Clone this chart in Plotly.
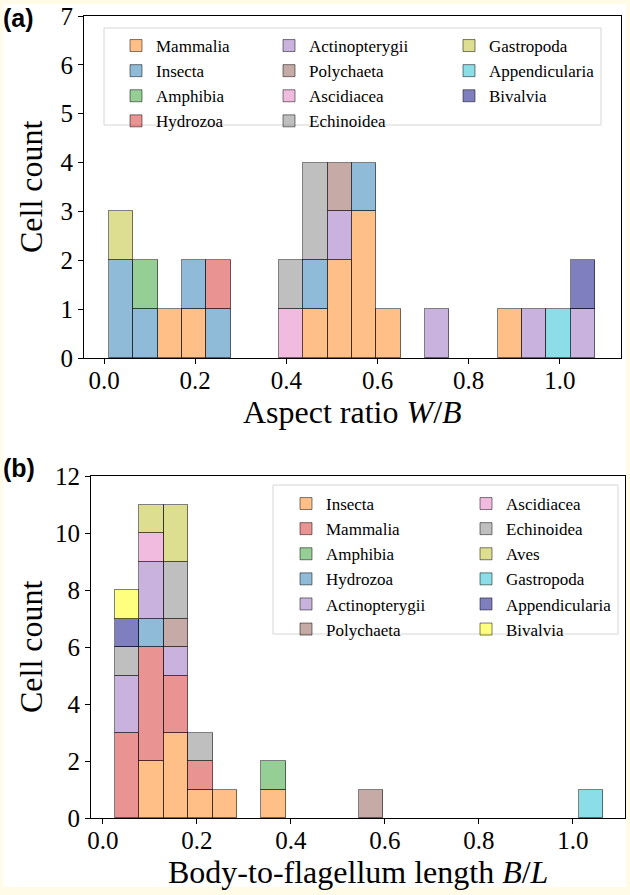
import numpy as np
import plotly.graph_objects as go

W, H = 630, 895

# ---- panel (a): aspect ratio W/B, counts per bin ----
a_edges = np.linspace(0.011, 1.077, 21)
a_names = ["Mammalia", "Insecta", "Amphibia", "Hydrozoa", "Actinopterygii", "Polychaeta",
           "Ascidiacea", "Echinoidea", "Gastropoda", "Appendicularia", "Bivalvia"]
a_mammalia = [0, 0, 1, 1, 0, 0, 0, 0, 1, 2, 3, 1, 0, 0, 0, 0, 1, 0, 0, 0]
a_insecta = [2, 1, 0, 1, 1, 0, 0, 0, 1, 0, 1, 0, 0, 0, 0, 0, 0, 0, 0, 0]
a_amphibia = [0, 1, 0, 0, 0, 0, 0, 0, 0, 0, 0, 0, 0, 0, 0, 0, 0, 0, 0, 0]
a_hydrozoa = [0, 0, 0, 0, 1, 0, 0, 0, 0, 0, 0, 0, 0, 0, 0, 0, 0, 0, 0, 0]
a_actinopterygii = [0, 0, 0, 0, 0, 0, 0, 0, 0, 1, 0, 0, 0, 1, 0, 0, 0, 1, 0, 1]
a_polychaeta = [0, 0, 0, 0, 0, 0, 0, 0, 0, 1, 0, 0, 0, 0, 0, 0, 0, 0, 0, 0]
a_ascidiacea = [0, 0, 0, 0, 0, 0, 0, 1, 0, 0, 0, 0, 0, 0, 0, 0, 0, 0, 0, 0]
a_echinoidea = [0, 0, 0, 0, 0, 0, 0, 1, 2, 0, 0, 0, 0, 0, 0, 0, 0, 0, 0, 0]
a_gastropoda = [1, 0, 0, 0, 0, 0, 0, 0, 0, 0, 0, 0, 0, 0, 0, 0, 0, 0, 0, 0]
a_appendicularia = [0, 0, 0, 0, 0, 0, 0, 0, 0, 0, 0, 0, 0, 0, 0, 0, 0, 0, 1, 0]
a_bivalvia = [0, 0, 0, 0, 0, 0, 0, 0, 0, 0, 0, 0, 0, 0, 0, 0, 0, 0, 0, 1]
a_counts = [a_mammalia, a_insecta, a_amphibia, a_hydrozoa, a_actinopterygii, a_polychaeta,
            a_ascidiacea, a_echinoidea, a_gastropoda, a_appendicularia, a_bivalvia]

# ---- panel (b): body-to-flagellum length B/L, counts per bin ----
b_edges = np.linspace(0.0255, 1.064, 21)
b_names = ["Insecta", "Mammalia", "Amphibia", "Hydrozoa", "Actinopterygii", "Polychaeta",
           "Ascidiacea", "Echinoidea", "Aves", "Gastropoda", "Appendicularia", "Bivalvia"]
b_insecta = [0, 2, 3, 1, 1, 0, 1, 0, 0, 0, 0, 0, 0, 0, 0, 0, 0, 0, 0, 0]
b_mammalia = [3, 4, 2, 1, 0, 0, 0, 0, 0, 0, 0, 0, 0, 0, 0, 0, 0, 0, 0, 0]
b_amphibia = [0, 0, 0, 0, 0, 0, 1, 0, 0, 0, 0, 0, 0, 0, 0, 0, 0, 0, 0, 0]
b_hydrozoa = [0, 1, 0, 0, 0, 0, 0, 0, 0, 0, 0, 0, 0, 0, 0, 0, 0, 0, 0, 0]
b_actinopterygii = [2, 2, 1, 0, 0, 0, 0, 0, 0, 0, 0, 0, 0, 0, 0, 0, 0, 0, 0, 0]
b_polychaeta = [0, 0, 1, 0, 0, 0, 0, 0, 0, 0, 1, 0, 0, 0, 0, 0, 0, 0, 0, 0]
b_ascidiacea = [0, 1, 0, 0, 0, 0, 0, 0, 0, 0, 0, 0, 0, 0, 0, 0, 0, 0, 0, 0]
b_echinoidea = [1, 0, 2, 1, 0, 0, 0, 0, 0, 0, 0, 0, 0, 0, 0, 0, 0, 0, 0, 0]
b_aves = [0, 1, 2, 0, 0, 0, 0, 0, 0, 0, 0, 0, 0, 0, 0, 0, 0, 0, 0, 0]
b_gastropoda = [0, 0, 0, 0, 0, 0, 0, 0, 0, 0, 0, 0, 0, 0, 0, 0, 0, 0, 0, 1]
b_appendicularia = [1, 0, 0, 0, 0, 0, 0, 0, 0, 0, 0, 0, 0, 0, 0, 0, 0, 0, 0, 0]
b_bivalvia = [1, 0, 0, 0, 0, 0, 0, 0, 0, 0, 0, 0, 0, 0, 0, 0, 0, 0, 0, 0]
b_counts = [b_insecta, b_mammalia, b_amphibia, b_hydrozoa, b_actinopterygii, b_polychaeta,
            b_ascidiacea, b_echinoidea, b_aves, b_gastropoda, b_appendicularia, b_bivalvia]

# matplotlib-ish colours drawn with alpha 0.5
palette = ["31,119,180", "255,127,14", "44,160,44", "214,39,40", "148,103,189", "140,86,75",
           "227,119,194", "127,127,127", "188,189,34", "23,190,207", "0,0,128", "255,255,0"]
a_colors = [palette[i] for i in [1, 0, 2, 3, 4, 5, 6, 7, 8, 9, 10]]
b_colors = [palette[i] for i in [1, 3, 2, 0, 4, 5, 6, 7, 8, 9, 10, 11]]

SERIF = "Liberation Serif"


def px_x(v):
    return v / W


def px_y(v):
    return 1 - v / H


fig = go.Figure()


def add_panel(edges, names, counts, colors, xa, ya, legends, per_col):
    centers = (edges[:-1] + edges[1:]) / 2
    width = edges[1] - edges[0]
    for i, (name, cnt, col) in enumerate(zip(names, counts, colors)):
        fig.add_trace(go.Bar(
            x=centers, y=[c if c else None for c in cnt], width=width, name=name,
            marker=dict(color="rgba(%s,0.5)" % col,
                        line=dict(color="rgba(0,0,0,0.5)", width=1)),
            xaxis=xa, yaxis=ya, legend=legends[i // per_col],
        ))


add_panel(a_edges, a_names, a_counts, a_colors, "x", "y", ["legend", "legend2", "legend3"], 4)
add_panel(b_edges, b_names, b_counts, b_colors, "x2", "y2", ["legend4", "legend5"], 6)

tick_font = dict(family=SERIF, size=25, color="black")
title_font = dict(family=SERIF, size=32, color="black")
axis_common = dict(showline=True, linecolor="black", linewidth=1.2, mirror=True,
                   ticks="outside", ticklen=5, tickcolor="black", showgrid=False,
                   zeroline=False, tickfont=tick_font, automargin=False)
ticks_x = dict(tickvals=[0, 0.2, 0.4, 0.6, 0.8, 1.0], ticktext=["0.0", "0.2", "0.4", "0.6", "0.8", "1.0"],
               ticklabelstandoff=-5)

leg_font = dict(family=SERIF, size=17, color="black")


def leg(x, y):
    return dict(x=px_x(x), y=px_y(y), xanchor="left", yanchor="top", font=leg_font,
                bgcolor="rgba(0,0,0,0)", borderwidth=0, orientation="v",
                tracegroupgap=0, traceorder="normal")


def label(text, x, y, angle=0, font=title_font, xanchor="center", yanchor="middle"):
    return dict(text=text, x=px_x(x), y=px_y(y), xref="paper", yref="paper",
                xanchor=xanchor, yanchor=yanchor, textangle=angle, showarrow=False, font=font)


panel_font = dict(family="Liberation Sans", size=25, color="black")

fig.update_layout(
    width=W, height=H,
    margin=dict(l=0, r=0, t=0, b=0, autoexpand=False),
    paper_bgcolor="#fffbe6",
    plot_bgcolor="white",
    barmode="stack",
    bargap=0,
    xaxis=dict(domain=[px_x(84), px_x(621)], range=[-0.044, 1.134], **ticks_x,
               anchor="y", **axis_common),
    yaxis=dict(domain=[px_y(358), px_y(16)], range=[0, 7], dtick=1,
               anchor="x", **axis_common),
    xaxis2=dict(domain=[px_x(91), px_x(625)], range=[-0.0255, 1.111], **ticks_x,
                anchor="y2", **axis_common),
    yaxis2=dict(domain=[px_y(818), px_y(476)], range=[0, 12], dtick=2,
                anchor="x2", **axis_common),
    legend=leg(116, 28),
    legend2=leg(269, 28),
    legend3=leg(449, 28),
    legend4=leg(286, 486),
    legend5=leg(466, 486),
    shapes=[
        dict(type="rect", xref="paper", yref="paper", layer="below",
             x0=px_x(3), x1=px_x(626), y0=px_y(887), y1=px_y(4),
             fillcolor="white", line=dict(width=0)),
        dict(type="rect", xref="paper", yref="paper", layer="above",
             x0=px_x(104), x1=px_x(601), y0=px_y(125), y1=px_y(28),
             fillcolor="rgba(255,255,255,0.8)", line=dict(color="#d6d6d6", width=1)),
        dict(type="rect", xref="paper", yref="paper", layer="above",
             x0=px_x(273), x1=px_x(618), y0=px_y(634), y1=px_y(485),
             fillcolor="rgba(255,255,255,0.8)", line=dict(color="#d6d6d6", width=1)),
    ],
    annotations=[
        label("Aspect ratio <i>W</i>/<i>B</i>", 352, 412),
        label("Cell count", 31, 187, angle=-90),
        label("Body-to-flagellum length <i>B</i>/<i>L</i>", 358, 872),
        label("Cell count", 31, 647, angle=-90),
        label("<b>(a)</b>", 1, 2, font=panel_font, xanchor="left", yanchor="top"),
        label("<b>(b)</b>", 1, 452, font=panel_font, xanchor="left", yanchor="top"),
    ],
)

# the page's default body margin would shift the figure off the window
fig.write_html("out.html", config={"displayModeBar": False},
               post_script="document.body.style.margin = '0';")
